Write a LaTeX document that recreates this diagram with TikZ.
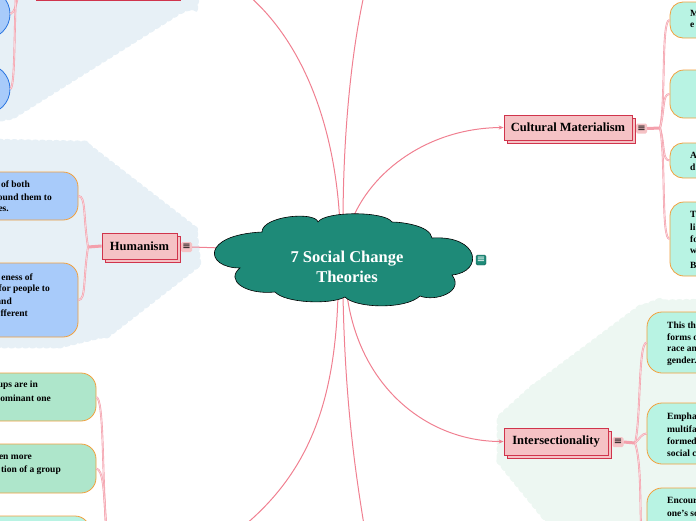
\documentclass[tikz,border=0pt]{standalone}
\usepackage{fontspec}
\setmainfont{Liberation Serif}
\newfontfamily\dejavu{DejaVu Sans}
\usetikzlibrary{arrows.meta,shadows,decorations.pathmorphing}
\definecolor{conn}{RGB}{240,128,145}
\definecolor{connlt}{RGB}{251,214,219}
\definecolor{subline}{RGB}{244,160,172}
\definecolor{topicfill}{RGB}{245,194,197}
\definecolor{topicdraw}{RGB}{208,52,76}
\definecolor{bluefill}{RGB}{168,203,250}
\definecolor{bluedraw}{RGB}{42,117,224}
\definecolor{orangedraw}{RGB}{242,160,61}
\definecolor{greenfill}{RGB}{174,230,203}
\definecolor{aquafill}{RGB}{184,243,227}
\definecolor{bgblue}{RGB}{231,240,246}
\definecolor{bggreen}{RGB}{237,247,242}
\definecolor{cloudteal}{RGB}{30,138,120}
\begin{document}
\begin{tikzpicture}[x=1pt,y=1pt,
 mainc/.style={draw=conn, line width=1pt},
 subc/.style={draw=subline, line width=0.6pt, double=connlt, double distance=0.7pt},
 thickc/.style={draw=subline, line width=3pt},
 topic/.style={draw=topicdraw, fill=topicfill, line width=0.8pt, font=\bfseries\fontsize{12.5}{14}\selectfont, inner sep=0pt, copy shadow={shadow xshift=3pt, shadow yshift=-3pt}},
 icon/.style={fill=topicfill, rounded corners=1.5pt, minimum width=11pt, minimum height=10pt, inner sep=0pt, font=\dejavu\fontsize{10}{10}\selectfont},
 subbox/.style={draw=orangedraw, line width=0.8pt, rounded corners=15pt, inner sep=0pt},
 txt/.style={font=\bfseries\fontsize{9.5}{12}\selectfont, inner sep=0pt},
 bumpy/.style={decorate, decoration={bumps, segment length=14pt, amplitude=1.5pt}},
 arr/.style={-{Stealth[length=5pt,width=4pt]}},
]
\useasboundingbox (0,0) rectangle (696,-520);
\clip (0,0) rectangle (696,-520);

% background regions
\fill[bgblue, bumpy] (-10,10) -- (199,10) -- (197,-6) -- (180,-13) -- (13,-118) -- (-10,-122) -- cycle;
\fill[bgblue, bumpy] (-10,-140) -- (85,-142) -- (196,-228) -- (200,-265) -- (110,-335) -- (60,-347) -- (-10,-347) -- cycle;
\fill[bggreen, bumpy] (498,-417) -- (530,-388) -- (637,-308) -- (655,-301) -- (710,-300) -- (710,-530) -- (553,-530) -- (498,-462) -- cycle;

% topic nodes
\node[topic, minimum width=75pt, minimum height=26pt] (hum) at (139.5,-246) {Humanism};
\node[topic, minimum width=128pt, minimum height=25pt] (cm) at (568,-127.5) {Cultural Materialism};
\node[topic, minimum width=104pt, minimum height=27pt] (int) at (556,-441.5) {Intersectionality};
\node[draw=topicdraw, fill=topicfill, line width=0.8pt, minimum width=144pt, minimum height=30pt, inner sep=0pt] (tltop) at (108,14.2) {};

% icons
\node[icon] (hicon) at (186.5,-247) {≡};
\node[icon] (cmicon) at (641.5,-128.5) {≡};
\node[icon] (inticon) at (618,-442) {≡};
\node[icon, fill=cloudteal, draw=cloudteal!70!black, line width=0.4pt, minimum width=10pt, text=white] (cloudicon) at (481,-260) {≡};

% cloud anchor coordinates
\coordinate (ca) at (340,-225);
\coordinate (cb) at (343,-225);
\coordinate (cc) at (350,-225);
\coordinate (cd) at (338,-295);
\coordinate (ce) at (343,-295);
\coordinate (cf) at (347,-295);
\coordinate (cg) at (222,-248);
\coordinate (ta) at (248,5);
\coordinate (tb) at (364,5);
\coordinate (bd) at (245,-525);
\coordinate (be) at (364,-525);

% main connectors
\draw[mainc] (ca) .. controls (335,-120) and (300,-40) .. (ta);
\draw[mainc] (cb) .. controls (343,-130) and (352,-50) .. (tb);
\draw[mainc, arr] (cc) .. controls (370,-170) and (430,-128) .. (cm.west);
\draw[mainc] (cd) .. controls (335,-400) and (310,-470) .. (bd);
\draw[mainc] (ce) .. controls (345,-400) and (355,-470) .. (be);
\draw[mainc, arr] (cf) .. controls (360,-390) and (430,-441.5) .. (int.west);
\draw[mainc] (cg) -- (hicon.east);

% cloud
\path[fill=cloudteal, draw=black, line width=0.6pt]
 (240,-268) .. controls (205,-268) and (200,-235) .. (262,-232)
 .. controls (262,-216) and (315,-211) .. (318,-222)
 .. controls (325,-211) and (385,-211) .. (392,-222)
 .. controls (400,-222) and (430,-225) .. (432,-238)
 .. controls (480,-235) and (484,-272) .. (452,-275)
 .. controls (465,-292) and (435,-302) .. (420,-296)
 .. controls (405,-310) and (355,-308) .. (345,-297)
 .. controls (330,-305) and (285,-303) .. (275,-292)
 .. controls (245,-295) and (225,-280) .. (240,-268) -- cycle;
\node[font=\bfseries\fontsize{16.5}{20}\selectfont, text=white, align=center] (title) at (347,-267) {7 Social Change\\Theories};

% top-left circles
\node[circle, draw=bluedraw, fill=bluefill, line width=0.8pt, minimum size=50pt, inner sep=0pt] (c1) at (-15,-14) {};
\node[circle, draw=bluedraw, fill=bluefill, line width=0.8pt, minimum size=50pt, inner sep=0pt] (c2) at (-15,-89) {};
\coordinate (tl1) at (19,8);
\coordinate (tl2) at (16,8);
\draw[subc] (c1.east) .. controls (15,-12) and (16,-5) .. (tl1);
\draw[subc] (c2.east) .. controls (15,-85) and (14,-40) .. (tl2);

% humanism subnodes
\node[subbox, fill=bluefill, minimum width=118pt, minimum height=48pt] (h1) at (19,-196) {};
\node[subbox, fill=bluefill, minimum width=118pt, minimum height=74pt] (h2) at (19,-300) {};
\coordinate (jh) at (88,-247);
\draw[thickc] (hum.west) -- (jh);
\draw[subc] (jh) .. controls (83,-215) and (86,-196) .. (h1.east);
\draw[subc] (jh) .. controls (83,-280) and (86,-300) .. (h2.east);
\node[txt, anchor=east] (h1a) at (30,-184) {of both};
\node[txt, anchor=east] (h1b) at (52,-197) {ound them to};
\node[txt, anchor=east] (h1c) at (9,-209) {es.};
\node[txt, anchor=east] (h2a) at (33,-277) {eness of};
\node[txt, anchor=east] (h2b) at (50,-289) {for people to};
\node[txt, anchor=east] (h2c) at (12,-301) {and};
\node[txt, anchor=east] (h2d) at (28,-313) {fferent};

% bottom-left subnodes
\node[subbox, fill=greenfill, minimum width=156pt, minimum height=48pt] (ga) at (18,-397) {};
\node[subbox, fill=greenfill, minimum width=156pt, minimum height=49pt] (gb) at (18,-468.5) {};
\node[subbox, fill=aquafill, minimum width=150pt, minimum height=60pt] (gc) at (15,-546) {};
\coordinate (bl) at (106,-525);
\draw[subc] (ga.east) .. controls (104,-400) and (102,-470) .. (bl);
\draw[subc] (gb.east) .. controls (103,-470) and (104,-490) .. (bl);
\node[txt, anchor=east] (gaa) at (38,-385) {ups are in};
\node[txt, anchor=east] (gab) at (51,-398) {ominant one};
\node[txt, anchor=east] (gba) at (32,-457) {en more};
\node[txt, anchor=east] (gbb) at (61,-470) {tion of a group};

% cultural materialism subnodes
\node[subbox, fill=aquafill, rounded corners=13pt, minimum width=90pt, minimum height=36pt] (n1) at (715,-20) {};
\node[subbox, fill=aquafill, rounded corners=14pt, minimum width=90pt, minimum height=48pt] (n2) at (715,-94) {};
\node[subbox, fill=aquafill, rounded corners=13pt, minimum width=90pt, minimum height=35pt] (n3) at (715,-160.5) {};
\node[subbox, fill=aquafill, rounded corners=14pt, minimum width=90pt, minimum height=74pt] (n4) at (715,-239) {};
\coordinate (jc) at (660,-128);
\draw[thickc] (cmicon.east) -- (jc);
\draw[subc] (jc) .. controls (666,-100) and (661,-20) .. (n1.west);
\draw[subc] (jc) .. controls (665,-110) and (662,-94) .. (n2.west);
\draw[subc] (jc) .. controls (665,-145) and (662,-160.5) .. (n3.west);
\draw[subc] (jc) .. controls (666,-160) and (661,-239) .. (n4.west);
\node[txt, anchor=west] (n1a) at (690,-13) {M};
\node[txt, anchor=west] (n1b) at (690,-25) {e};
\node[txt, anchor=west] (n3a) at (690,-155) {A};
\node[txt, anchor=west] (n3b) at (690,-167) {d};
\node[txt, anchor=west] (n4a) at (690,-214) {Th};
\node[txt, anchor=west] (n4b) at (690,-227) {li};
\node[txt, anchor=west] (n4c) at (690,-239) {fo};
\node[txt, anchor=west] (n4d) at (690,-251) {w};
\node[txt, anchor=west] (n4e) at (690,-265) {B};

% intersectionality subnodes
\node[subbox, fill=aquafill, minimum width=113pt, minimum height=61pt] (i1) at (703.5,-342.5) {};
\node[subbox, fill=aquafill, minimum width=113pt, minimum height=61pt] (i2) at (703.5,-433.5) {};
\node[subbox, fill=aquafill, minimum width=113pt, minimum height=72pt] (i3) at (703.5,-524) {};
\coordinate (ji) at (635,-443);
\coordinate (i3c) at (641,-525);
\draw[thickc] (inticon.east) -- (ji);
\draw[subc] (ji) .. controls (641,-420) and (638,-342.5) .. (i1.west);
\draw[subc] (ji) .. controls (640,-438) and (642,-433.5) .. (i2.west);
\draw[subc] (ji) .. controls (641,-460) and (640,-500) .. (i3c);
\node[txt, anchor=west] (i1a) at (667,-325) {This th};
\node[txt, anchor=west] (i1b) at (667,-337) {forms o};
\node[txt, anchor=west] (i1c) at (667,-349) {race an};
\node[txt, anchor=west] (i1d) at (667,-361) {gender.};
\node[txt, anchor=west] (i2a) at (667,-417) {Empha};
\node[txt, anchor=west] (i2b) at (667,-429) {multifa};
\node[txt, anchor=west] (i2c) at (667,-441) {formed};
\node[txt, anchor=west] (i2d) at (667,-453) {social c};
\node[txt, anchor=west] (i3a) at (667,-500) {Encour};
\node[txt, anchor=west] (i3b) at (667,-513) {one's so};
\end{tikzpicture}
\end{document}
